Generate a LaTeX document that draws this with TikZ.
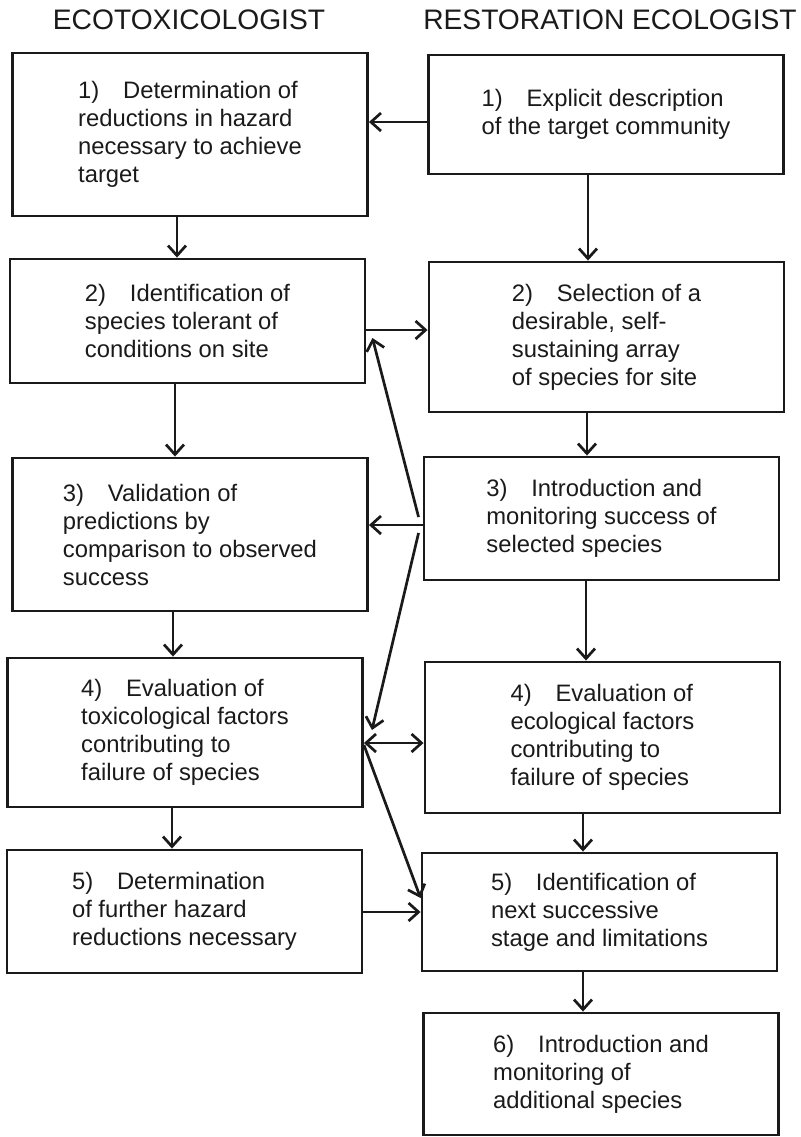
\documentclass[tikz,border=0pt]{standalone}
\usepackage{fontspec}
\setmainfont{Liberation Sans}
\usepackage{tikz}
\usetikzlibrary{arrows.meta,positioning,calc}
\definecolor{BoxInk}{HTML}{1A1A1A}
\tikzset{
  stepbox/.style={draw=BoxInk,text=BoxInk,line width=1.45pt,align=left,
    font=\fontsize{11.9}{14}\selectfont,inner sep=0pt,minimum width=177.5pt},
  headtext/.style={text=BoxInk,font=\fontsize{14.1}{16}\selectfont},
  flowarrow/.style={-{Straight Barb[length=5pt,width=9pt]},line width=1.35pt,draw=BoxInk}
}

\begin{document}
\begin{tikzpicture}[x=0.5pt,y=-0.5pt]
  \useasboundingbox (0,0) rectangle (800,1137);

  \node[headtext] (ecohead) at (189,20) {ECOTOXICOLOGIST};
  \node[headtext] (reshead) at (610,20) {RESTORATION ECOLOGIST};

  % ecotoxicologist column
  \node[stepbox,minimum height=81.5pt] (L1) at (190,134.5) {1)\quad Determination of\\reductions in hazard\\necessary to achieve\\target};
  \node[stepbox,minimum height=62pt] (L2) at (187.5,321) {2)\quad Identification of\\species tolerant of\\conditions on site};
  \node[stepbox,minimum height=76.5pt] (L3) at (190,534.5) {3)\quad Validation of\\predictions by\\comparison to observed\\success};
  \node[stepbox,minimum height=74.5pt] (L4) at (185,732.5) {4)\quad Evaluation of\\toxicological factors\\contributing to\\failure of species};
  \node[stepbox,minimum height=61.5pt] (L5) at (184.5,911.5) {5)\quad Determination\\of further hazard\\reductions necessary};

  % restoration ecologist column
  \node[stepbox,minimum height=59.5pt] (R1) at (606,114.5) {1)\quad Explicit description\\of the target community};
  \node[stepbox,minimum height=75pt] (R2) at (606.5,337) {2)\quad Selection of a\\desirable, self-\\sustaining array\\of species for site};
  \node[stepbox,minimum height=61.5pt] (R3) at (601.5,518.5) {3)\quad Introduction and\\monitoring success of\\selected species};
  \node[stepbox,minimum height=75.5pt] (R4) at (602.5,737.5) {4)\quad Evaluation of\\ecological factors\\contributing to\\failure of species};
  \node[stepbox,minimum height=59pt] (R5) at (599.5,912) {5)\quad Identification of\\next successive\\stage and limitations};
  \node[stepbox,minimum height=61pt] (R6) at (601,1074) {6)\quad Introduction and\\monitoring of\\additional species};

  \draw[flowarrow] (R1.west |- 0,122) -- (L1.east |- 0,122);
  \draw[flowarrow] (L1.south -| 177,0) -- (L2.north -| 177,0);
  \draw[flowarrow] (R1.south -| 588,0) -- (R2.north -| 588,0);
  \draw[flowarrow] (L2.east |- 0,330) -- (R2.west |- 0,330);
  \draw[flowarrow] (L2.south -| 175,0) -- (L3.north -| 175,0);
  \draw[flowarrow] (R2.south -| 587,0) -- (R3.north -| 587,0);
  \draw[flowarrow] (R3.west |- 0,525) -- (L3.east |- 0,525);
  \draw[flowarrow] ([xshift=-2pt]R3.west |- 0,517) -- ([xshift=3pt]L2.east |- 0,338);
  \draw[flowarrow] ([xshift=-2pt]R3.west |- 0,533) -- ([xshift=4pt]L4.east |- 0,730);
  \draw[flowarrow] (L3.south -| 173,0) -- (L4.north -| 173,0);
  \draw[flowarrow] (R3.south -| 586,0) -- (R4.north -| 586,0);
  \draw[flowarrow,{Straight Barb[length=5pt,width=9pt]}-{Straight Barb[length=5pt,width=9pt]}] (L4.east |- 0,743) -- (R4.west |- 0,743);
  \draw[flowarrow] (L4.east |- 0,745) -- (R5.west |- 0,898);
  \draw[flowarrow] (L4.south -| 172,0) -- (L5.north -| 172,0);
  \draw[flowarrow] (R4.south -| 583,0) -- (R5.north -| 583,0);
  \draw[flowarrow] (L5.east |- 0,912) -- (R5.west |- 0,912);
  \draw[flowarrow] (R5.south -| 583,0) -- (R6.north -| 583,0);
\end{tikzpicture}
\end{document}
